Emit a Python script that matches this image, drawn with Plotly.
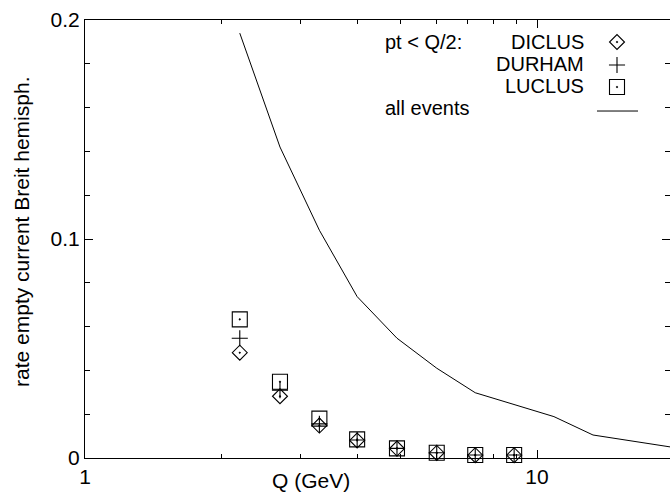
import plotly.graph_objects as go

# ---- data ----
q_line = [2.2, 2.7, 3.3, 4.0, 4.9, 6.0, 7.3, 8.9, 10.9, 13.3, 16.2, 19.8]
all_events = [0.194, 0.142, 0.104, 0.0737, 0.0547, 0.041, 0.0298, 0.0243, 0.0189, 0.0105, 0.0078, 0.005]

q_pts = [2.2, 2.7, 3.3, 4.0, 4.9, 6.0, 7.3, 8.9]
diclus = [0.0481, 0.0282, 0.0148, 0.0080, 0.0043, 0.0023, 0.0013, 0.0013]
durham = [0.0547, 0.0310, 0.0156, 0.0082, 0.0044, 0.0024, 0.0014, 0.0014]
luclus = [0.0633, 0.0348, 0.0180, 0.0085, 0.0044, 0.0024, 0.0014, 0.0014]

x_tickvals = [1, 10]
x_ticktext = ["1", "10"]
x_minor = [2, 3, 4, 5, 6, 7, 8, 9, 20]
y_tickvals = [0, 0.1, 0.2]
y_ticktext = ["0", "0.1", "0.2"]

legend_names = ["DICLUS", "DURHAM", "LUCLUS"]
legend_symbols = ["diamond-open-dot", "cross-thin-open", "square-open-dot"]
legend_sizes = [11.5, 11.5, 15]

FONT = "Liberation Sans, Arial, Helvetica, sans-serif"
FS = 21      # axis text
FS_LEG = 20  # legend text

fig = go.Figure()

fig.add_trace(go.Scatter(x=q_line, y=all_events, mode="lines",
                         line=dict(color="black", width=1), showlegend=False))

for vals, sym, sz in zip([diclus, durham, luclus], legend_symbols, legend_sizes):
    fig.add_trace(go.Scatter(x=q_pts, y=vals, mode="markers", cliponaxis=False,
                             marker=dict(symbol=sym, size=sz, color="black",
                                         line=dict(color="black", width=1.1)),
                             showlegend=False))

# ---- custom legend on an overlay axis (paper-like 0..1 coordinates) ----
leg_x_sym = 0.9094
leg_y = [0.9498, 0.8973, 0.847]
leg_line_x = [0.8752, 0.9453]
leg_line_y = 0.7922
for y, sym, sz in zip(leg_y, legend_symbols, legend_sizes):
    fig.add_trace(go.Scatter(x=[leg_x_sym], y=[y], mode="markers", xaxis="x2", yaxis="y2",
                             marker=dict(symbol=sym, size=sz, color="black",
                                         line=dict(color="black", width=1.1)),
                             showlegend=False, cliponaxis=False))
fig.add_trace(go.Scatter(x=leg_line_x, y=[leg_line_y, leg_line_y], mode="lines",
                         xaxis="x2", yaxis="y2", line=dict(color="black", width=1),
                         showlegend=False))

annotations = [
    dict(text="pt < Q/2:", x=0.5094, y=0.950, xanchor="left"),
    dict(text=legend_names[0], x=0.8564, y=0.950, xanchor="right"),
    dict(text=legend_names[1], x=0.8564, y=0.900, xanchor="right"),
    dict(text=legend_names[2], x=0.8564, y=0.849, xanchor="right"),
    dict(text="all events", x=0.5094, y=0.798, xanchor="left"),
]
anns = []
for a in annotations:
    anns.append(dict(xref="paper", yref="paper", yanchor="middle", showarrow=False,
                     font=dict(family=FONT, size=FS_LEG, color="black"), **a))
anns.append(dict(text="Q (GeV)", xref="paper", yref="paper", x=0.386, y=-0.021,
                 xanchor="center", yanchor="top", showarrow=False,
                 font=dict(family=FONT, size=FS, color="black")))
anns.append(dict(text="rate empty current Breit hemisph.", xref="paper", yref="paper",
                 x=-0.1077, y=0.516, xanchor="center", yanchor="middle", textangle=-90,
                 showarrow=False, font=dict(family=FONT, size=FS, color="black")))

fig.update_layout(
    width=670, height=492,
    margin=dict(l=85, r=0, t=20, b=34),
    paper_bgcolor="white", plot_bgcolor="white",
    font=dict(family=FONT, size=FS, color="black"),
    annotations=anns,
    xaxis=dict(type="log", range=[0, 1.2942], showgrid=False, zeroline=False,
               showline=True, linecolor="black", linewidth=1, mirror="ticks",
               ticks="inside", ticklen=8, tickcolor="black",
               tickvals=x_tickvals, ticktext=x_ticktext,
               minor=dict(tickvals=x_minor, ticks="inside", ticklen=4, tickcolor="black"),
               tickfont=dict(family=FONT, size=FS)),
    yaxis=dict(range=[0, 0.2], showgrid=False, zeroline=False,
               showline=True, linecolor="black", linewidth=1, mirror="ticks",
               ticks="inside", ticklen=8, tickcolor="black",
               tickvals=y_tickvals, ticktext=y_ticktext,
               minor=dict(dtick=0.02, ticks="inside", ticklen=5, tickcolor="black"),
               tickfont=dict(family=FONT, size=FS)),
    xaxis2=dict(overlaying="x", range=[0, 1], visible=False, fixedrange=True),
    yaxis2=dict(overlaying="y", range=[0, 1], visible=False, fixedrange=True),
)

fig.write_html("out.html")
